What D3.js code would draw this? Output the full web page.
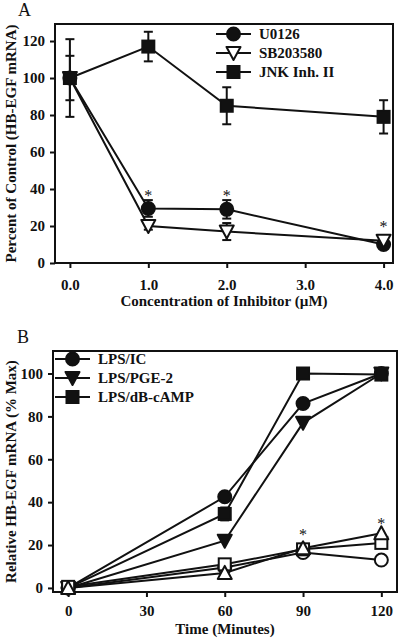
<!DOCTYPE html>
<html><head><meta charset="utf-8">
<script src="https://cdn.jsdelivr.net/npm/d3@7"></script>
<style>
body{margin:0;background:#fff;}
svg text{font-family:"Liberation Serif","Times New Roman",serif;font-weight:bold;fill:#111;}
</style></head>
<body><svg id="c" width="400" height="638"></svg>
<script>
// ---- Panel A data ----
const concA = [0, 1, 2, 4];
const xTicksA = [0, 1, 2, 3, 4];
const yTicksA = [0, 20, 40, 60, 80, 100, 120];
const u0126 = [100, 29.5, 29, 10];
const u0126Err = [12, 4.5, 5, 2];
const sb203580 = [100, 20, 17, 12];
const sb203580Err = [2, 2, 4.6, 2];
const jnk = [100, 117, 85, 79];
const jnkErr = [21, 8, 10, 9];
const starXA = [1, 2, 4];
const starYA = [38, 38, 21];
const legendA = ["U0126", "SB203580", "JNK Inh. II"];

// ---- Panel B data ----
const timeB = [0, 60, 90, 120];
const xTicksB = [0, 30, 60, 90, 120];
const yTicksB = [0, 20, 40, 60, 80, 100];
const lpsIC = [0, 42.5, 86, 100];
const lpsPGE = [0, 22, 77, 100];
const lpsCAMP = [0, 34.5, 100, 99.5];
const lpsCAMPErr = [1, 3, 2, 1.5];
const openCircle = [0, 9.5, 16.5, 13];
const openSquare = [0.5, 11, 18, 21];
const openSquareErr = [2, 1.5, 1.5, 1.5];
const openTriangle = [0, 7, 18.5, 25.5];
const starXB = [90, 120];
const starYB = [26, 31];
const legendB = ["LPS/IC", "LPS/PGE-2", "LPS/dB-cAMP"];

const svg = d3.select("#c");
const black = "#111";

function symbol(g, type, filled, x, y) {
  const f = filled ? black : "#fff";
  if (type === "circle") {
    g.append("circle").attr("cx", x).attr("cy", y).attr("r", 6.5)
      .attr("fill", f).attr("stroke", black).attr("stroke-width", 2);
  } else if (type === "square") {
    g.append("rect").attr("x", x - 6).attr("y", y - 6).attr("width", 12).attr("height", 12)
      .attr("fill", f).attr("stroke", black).attr("stroke-width", 2);
  } else if (type === "down") {
    g.append("path").attr("d", `M${x-7},${y-6}L${x+7},${y-6}L${x},${y+7}Z`)
      .attr("fill", f).attr("stroke", black).attr("stroke-width", 2).attr("stroke-linejoin", "round");
  } else if (type === "up") {
    g.append("path").attr("d", `M${x-7},${y+6}L${x+7},${y+6}L${x},${y-7}Z`)
      .attr("fill", f).attr("stroke", black).attr("stroke-width", 2).attr("stroke-linejoin", "round");
  }
}

function panel(cfg) {
  const {left, top, right, bottom, xDomain, yDomain, xTicks, yTicks, xFmt} = cfg;
  const x = d3.scaleLinear().domain(xDomain).range([left, right]);
  const y = d3.scaleLinear().domain(yDomain).range([bottom, top]);
  const g = svg.append("g");

  const xa = g.append("g").attr("transform", `translate(0,${bottom})`)
    .call(d3.axisBottom(x).tickValues(xTicks).tickFormat(xFmt).tickSize(5).tickPadding(cfg.xPad));
  const ya = g.append("g").attr("transform", `translate(${left},0)`)
    .call(d3.axisLeft(y).tickValues(yTicks).tickSize(5).tickPadding(5));
  [xa, ya].forEach(a => {
    a.select(".domain").remove();
    a.selectAll("line").attr("stroke", black).attr("stroke-width", 2);
    a.selectAll("text").style("font-size", "15px").attr("fill", black);
  });
  g.append("rect").attr("x", left).attr("y", top).attr("width", right - left).attr("height", bottom - top)
    .attr("fill", "none").attr("stroke", black).attr("stroke-width", 2);

  const line = d3.line().x(d => x(d[0])).y(d => y(d[1]));
  cfg.series.forEach(s => {
    const pts = cfg.xs.map((xv, i) => [xv, s.values[i]]);
    g.append("path").attr("d", line(pts)).attr("fill", "none").attr("stroke", black).attr("stroke-width", 2);
  });
  cfg.series.forEach(s => {
    if (!s.err) return;
    cfg.xs.forEach((xv, i) => {
      const e = s.err[i];
      const cx = x(xv), y1 = y(s.values[i] - e), y2 = y(s.values[i] + e);
      g.append("line").attr("x1", cx).attr("x2", cx).attr("y1", y1).attr("y2", y2).attr("stroke", black).attr("stroke-width", 2);
      [y1, y2].forEach(yy => g.append("line").attr("x1", cx - 4.5).attr("x2", cx + 4.5).attr("y1", yy).attr("y2", yy)
        .attr("stroke", black).attr("stroke-width", 2));
    });
  });
  cfg.series.forEach(s => {
    cfg.xs.forEach((xv, i) => symbol(g, s.type, s.filled, x(xv), y(s.values[i])));
  });
  cfg.starX.forEach((sx, i) => {
    g.append("text").attr("x", x(sx)).attr("y", y(cfg.starY[i]) + 8).attr("text-anchor", "middle")
      .attr("fill", black).style("fill", black)
      .style("font-size", "16px").style("font-weight", "normal").text("*");
  });
  cfg.legend.forEach((name, i) => {
    const ly = cfg.legY + i * 19;
    g.append("line").attr("x1", cfg.legX).attr("x2", cfg.legX + 35).attr("y1", ly).attr("y2", ly)
      .attr("stroke", black).attr("stroke-width", 2);
    symbol(g, cfg.series[i].type, cfg.series[i].filled, cfg.legX + 17.5, ly);
    g.append("text").attr("x", cfg.legX + 43).attr("y", ly + 5).style("font-size", "15px").text(name);
  });
  g.append("text").attr("x", (left + right) / 2).attr("y", cfg.xTitleY).attr("text-anchor", "middle")
    .style("font-size", "15px").text(cfg.xTitle);
  g.append("text").attr("transform", `translate(${cfg.yTitleX},${(top + bottom) / 2}) rotate(-90)`)
    .attr("text-anchor", "middle").style("font-size", "15px").text(cfg.yTitle);
  g.append("text").attr("x", cfg.labX).attr("y", cfg.labY).style("font-size", "18px").style("font-weight", "normal").text(cfg.label);
}

panel({
  left: 55, top: 24, right: 393, bottom: 263,
  xDomain: [-0.19, 4.12], yDomain: [0, 129.2],
  xTicks: xTicksA, yTicks: yTicksA, xFmt: d3.format(".1f"), xPad: 11,
  xs: concA,
  series: [
    {values: u0126, err: u0126Err, type: "circle", filled: true},
    {values: sb203580, err: sb203580Err, type: "down", filled: false},
    {values: jnk, err: jnkErr, type: "square", filled: true}
  ],
  starX: starXA, starY: starYA,
  legend: legendA, legX: 216, legY: 34,
  xTitle: "Concentration of Inhibitor (\u00b5M)", xTitleY: 306,
  yTitle: "Percent of Control (HB-EGF mRNA)", yTitleX: 16,
  label: "A", labX: 18, labY: 16
});

panel({
  left: 53, top: 351, right: 397, bottom: 592,
  xDomain: [-5.8, 126], yDomain: [-1.9, 110.5],
  xTicks: xTicksB, yTicks: yTicksB, xFmt: d3.format("d"), xPad: 8,
  xs: timeB,
  series: [
    {values: lpsIC, type: "circle", filled: true},
    {values: lpsPGE, type: "down", filled: true},
    {values: lpsCAMP, err: lpsCAMPErr, type: "square", filled: true},
    {values: openCircle, type: "circle", filled: false},
    {values: openSquare, err: openSquareErr, type: "square", filled: false},
    {values: openTriangle, type: "up", filled: false}
  ],
  starX: starXB, starY: starYB,
  legend: legendB, legX: 55, legY: 359,
  xTitle: "Time (Minutes)", xTitleY: 634,
  yTitle: "Relative HB-EGF mRNA (% Max)", yTitleX: 16,
  label: "B", labX: 17, labY: 343
});
</script></body></html>
